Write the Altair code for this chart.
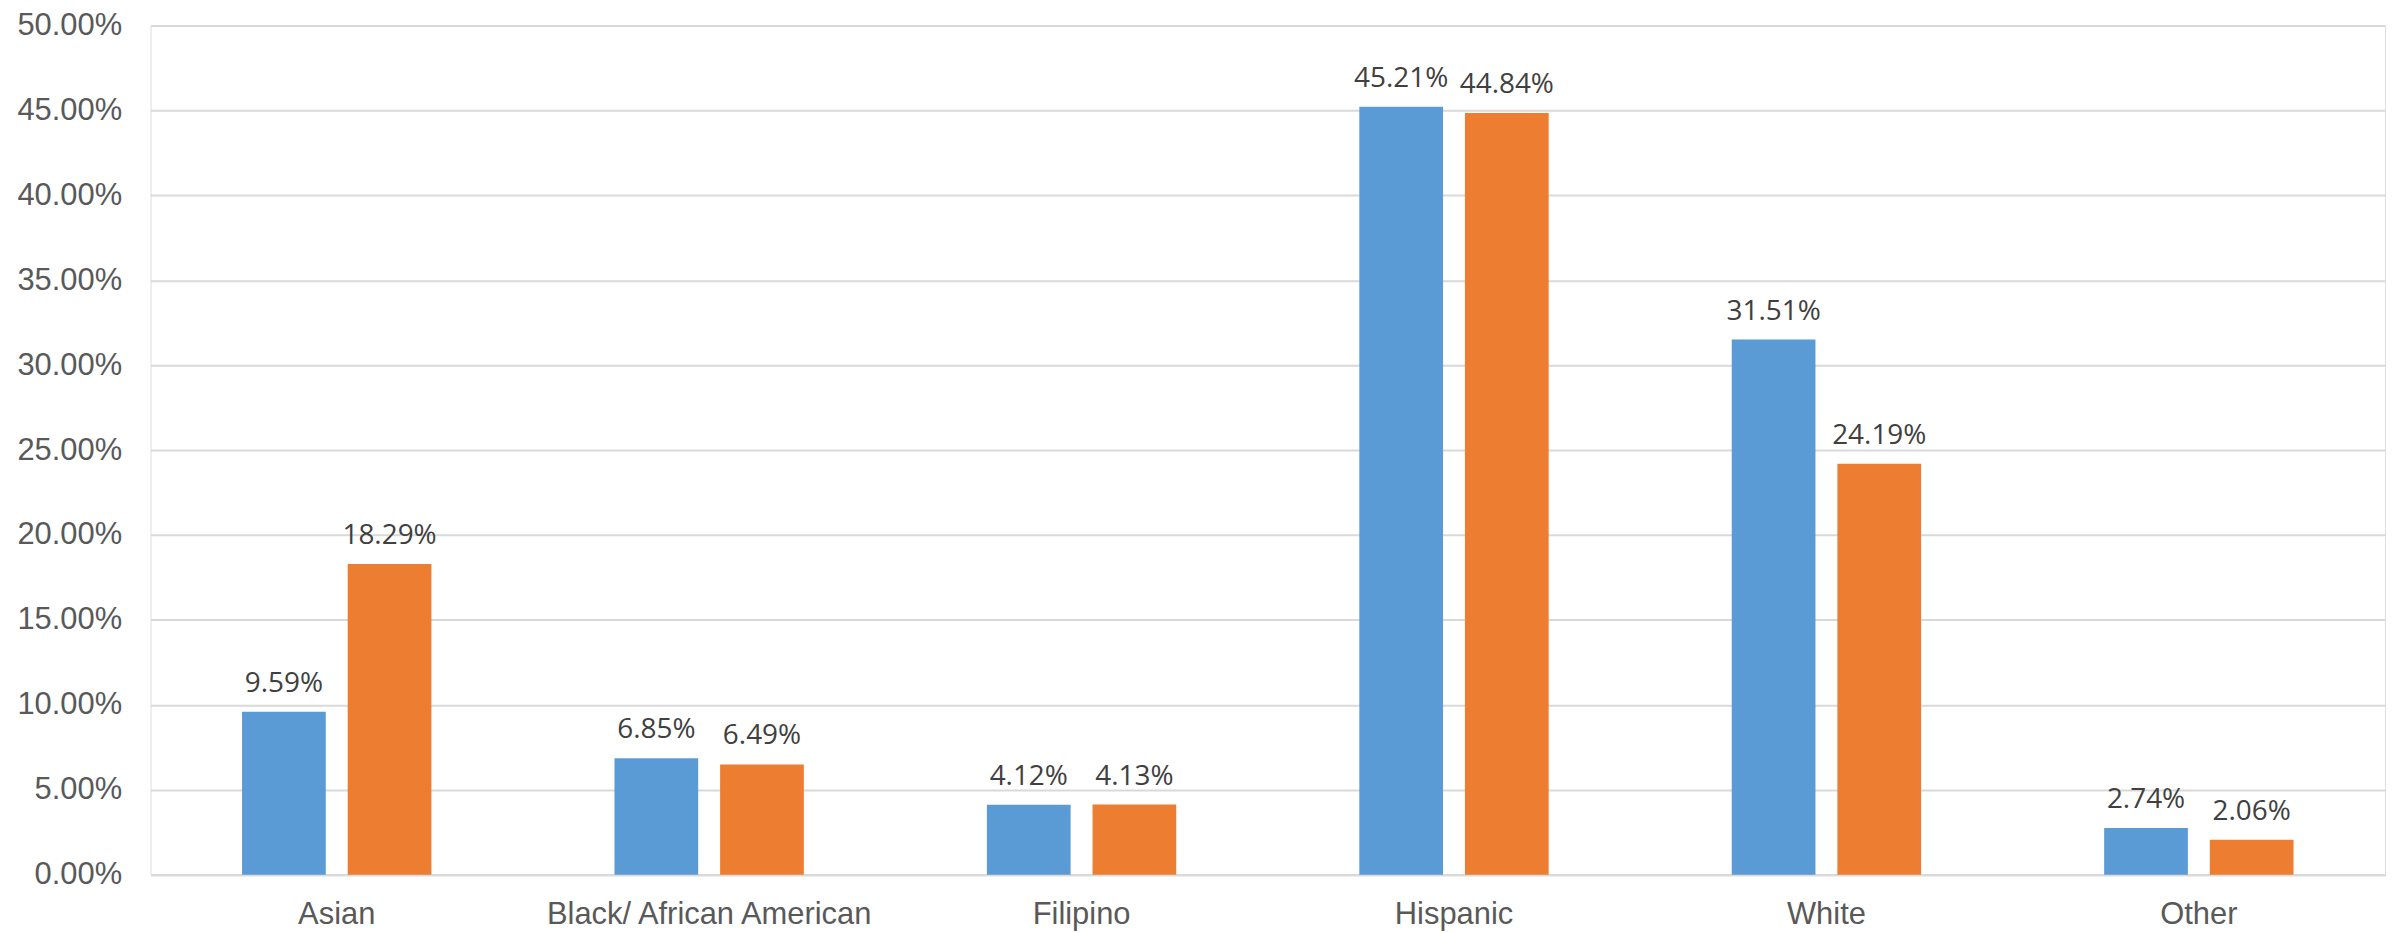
import altair as alt
import pandas as pd

categories = ["Asian", "Black/ African American", "Filipino", "Hispanic", "White", "Other"]
series_names = ["Series 1", "Series 2"]
series1 = [9.59, 6.85, 4.12, 45.21, 31.51, 2.74]
series2 = [18.29, 6.49, 4.13, 44.84, 24.19, 2.06]
colors = ["#5B9BD5", "#ED7D31"]

rows = []
for c, a, b in zip(categories, series1, series2):
    rows.append({"category": c, "series": series_names[0], "value": a / 100})
    rows.append({"category": c, "series": series_names[1], "value": b / 100})
df = pd.DataFrame(rows)

x = alt.X("category:N", sort=categories, title=None,
          scale=alt.Scale(paddingInner=0, paddingOuter=0),
          axis=alt.Axis(labelAngle=0, labelFont="Liberation Sans", labelFontSize=31,
                        labelColor="#595959", labelPadding=25, ticks=False, labelLimit=0,
                        domainColor="#D9D9D9", domainWidth=2, labelBaseline="top"))
xoff = alt.XOffset("series:N", sort=series_names,
                   scale=alt.Scale(paddingInner=0.2075, paddingOuter=0.8665))
y = alt.Y("value:Q", title=None,
          scale=alt.Scale(domain=[0, 0.5], nice=False),
          axis=alt.Axis(format=".2%", values=[i * 0.05 for i in range(11)],
                        labelFont="Liberation Sans", labelFontSize=31, labelColor="#595959",
                        labelPadding=29, ticks=False, domain=False,
                        gridColor="#D9D9D9", gridWidth=2,
                        minExtent=143, maxExtent=143))
color = alt.Color("series:N", sort=series_names,
                  scale=alt.Scale(domain=series_names, range=colors), legend=None)

bars = alt.Chart(df).mark_bar().encode(x=x, xOffset=xoff, y=y, color=color)
labels = alt.Chart(df).mark_text(font="Open Sans", fontSize=28, color="#404040",
                                 baseline="alphabetic", dy=-20).encode(
    x=x, xOffset=xoff, y=y, text=alt.Text("value:Q", format=".2%"))

chart = alt.layer(bars, labels).properties(
    width=2242, height=852,
    autosize=alt.AutoSizeParams(type="none"),
    padding={"left": 143, "top": 16, "right": 14, "bottom": 57},
).configure_view(stroke=None).configure(background="white")

chart.save("out.html", embed_options={"renderer": "svg", "actions": False})
